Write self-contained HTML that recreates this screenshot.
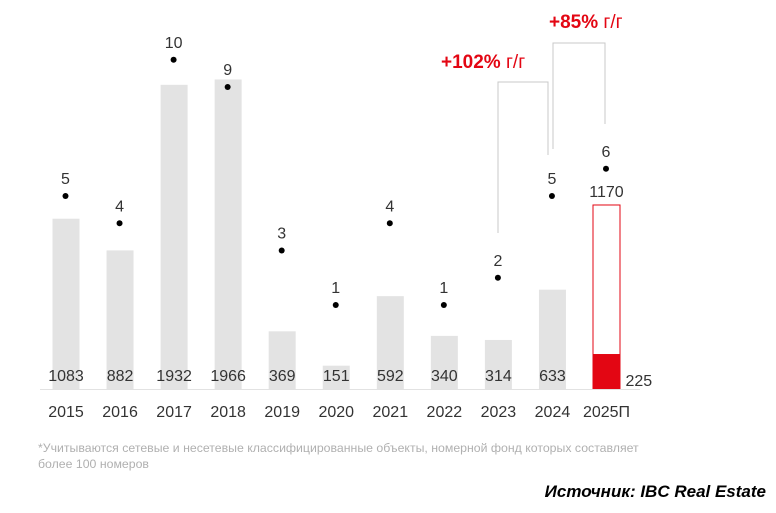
<!DOCTYPE html>
<html><head><meta charset="utf-8"><style>
body{margin:0;background:#fff;width:776px;height:508px;overflow:hidden;font-family:"Liberation Sans","DejaVu Sans",sans-serif}
</style></head><body>
<svg width="776" height="508" xmlns="http://www.w3.org/2000/svg" font-family="Liberation Sans, DejaVu Sans, sans-serif">
<g id="bars"></g>
<line x1="40" y1="389.5" x2="640" y2="389.5" stroke="#e2e2e2" stroke-width="1"/>
<g fill="none" stroke="#c8c8c8" stroke-width="1">
<polyline points="498,233 498,82 548,82 548,155"/>
</g>
<g fill="none" stroke="#c8c8c8" stroke-width="1">
<polyline points="553,149 553,43 605,43 605,124"/>
</g>
<text x="441" y="68" font-size="19" fill="#e30613"><tspan font-weight="bold">+102%</tspan> г/г</text>
<text x="549" y="28" font-size="19" fill="#e30613"><tspan font-weight="bold">+85%</tspan> г/г</text>
<text x="38" y="452" font-size="12.3" fill="#b0b0b0">*Учитываются сетевые и несетевые классифицированные объекты, номерной фонд которых составляет</text>
<text x="38" y="468" font-size="12.3" fill="#b0b0b0">более 100 номеров</text>
<text x="766" y="497" font-size="17" font-weight="bold" font-style="italic" text-anchor="end" fill="#000">Источник: IBC Real Estate</text>
</svg>
<script>
const years=["2015","2016","2017","2018","2019","2020","2021","2022","2023","2024","2025П"];
const rooms=[1083,882,1932,1966,369,151,592,340,314,633,1170];
const hotels=[5,4,10,9,3,1,4,1,2,5,6];
const forecastPart=225;
const svg=document.querySelector('svg'),g=document.getElementById('bars');
const NS='http://www.w3.org/2000/svg';
const xC=i=>66+i*54.05, yV=v=>389.5-v*0.1577, yD=n=>332.25-n*27.25;
function el(t,a){const e=document.createElementNS(NS,t);for(const k in a)e.setAttribute(k,a[k]);g.appendChild(e);return e;}
years.forEach((y,i)=>{
 const x=xC(i),last=i===years.length-1;
 let r;
 if(!last){r=el('rect',{x:x-13.5,y:yV(rooms[i]),width:27,height:389.5-yV(rooms[i]),fill:'#e3e3e3'});}
 else{r=el('rect',{x:x-13.5,y:yV(rooms[i]),width:27,height:389.5-yV(rooms[i]),fill:'#fff',stroke:'#e30613','stroke-width':1});}
 
 
 if(last){
  const f=el('rect',{x:x-13.5,y:yV(forecastPart),width:27,height:389.5-yV(forecastPart),fill:'#e30613'});
  
  
  const t=el('text',{x:x+19,y:386,'font-size':16,fill:'#333'});t.textContent=forecastPart;
  
  
  const t2=el('text',{x:x,y:yV(rooms[i])-8,'font-size':16,fill:'#333','text-anchor':'middle'});t2.textContent=rooms[i];
  
  
 } else {
  const t=el('text',{x:x,y:381,'font-size':16,fill:'#333','text-anchor':'middle'});t.textContent=rooms[i];
  
  
 }
 const d=el('circle',{cx:x-0.5,cy:yD(hotels[i]),r:3,fill:'#000'});
 
 
 const c=el('text',{x:x-0.5,y:yD(hotels[i])-12,'font-size':16,fill:'#333','text-anchor':'middle'});c.textContent=hotels[i];
 
 
 const yl=el('text',{x:x,y:417,'font-size':16,fill:'#333','text-anchor':'middle'});yl.textContent=y;
 
 
});
</script>
</body></html>
